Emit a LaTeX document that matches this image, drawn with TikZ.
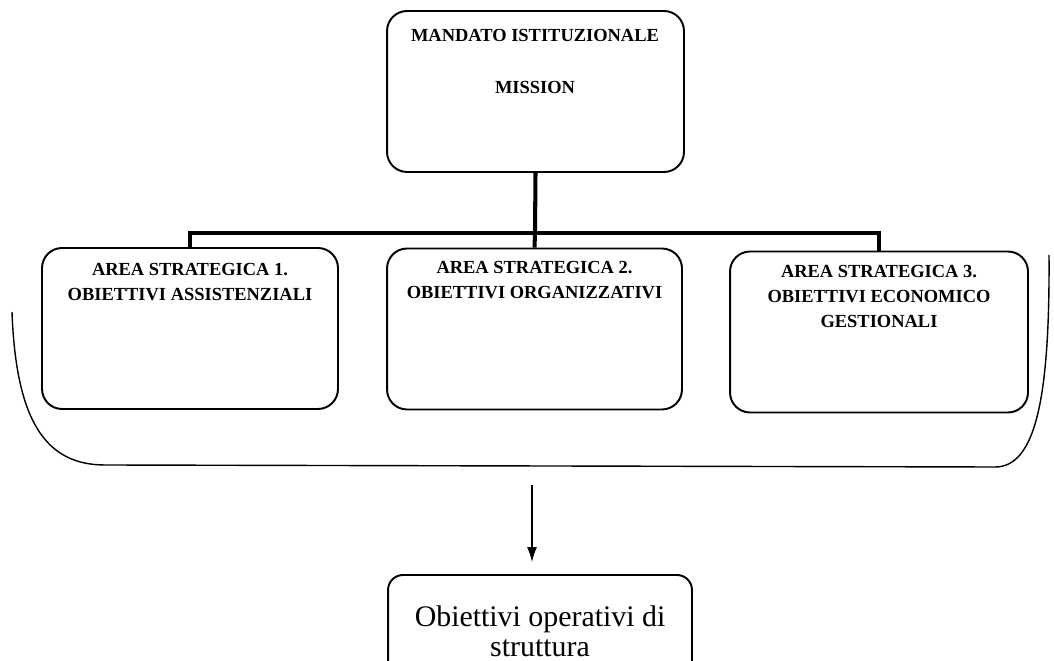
\documentclass[tikz,border=0pt]{standalone}
\usepackage{fontspec}
\setmainfont{Liberation Serif}
\usetikzlibrary{arrows.meta}
\begin{document}
\begin{tikzpicture}[x=0.02cm, y=-0.02cm,
  box/.style={draw, line width=1.1pt, rounded corners=0.4cm},
  caps/.style={font=\fontsize{10.5}{14.2}\selectfont\bfseries, align=center, inner sep=0pt},
  link/.style={line width=2.3pt}]
\fill[white] (0,0) rectangle (1054,661);
\clip (0,0) rectangle (1054,661);
% mission box
\node[box, minimum width=5.94cm, minimum height=3.22cm] (mandato) at (535.5,91.5) {};
\node[caps] (mandtxt) at (535,35) {MANDATO ISTITUZIONALE};
\node[caps] (mission) at (535,87) {MISSION};
% strategic areas
\foreach \n/\x/\y/\w/\ty/\txt in {1/190/328.5/5.92/263/{AREA STRATEGICA 1.\\OBIETTIVI ASSISTENZIALI},2/534.5/329/5.90/261/{AREA STRATEGICA 2.\\OBIETTIVI ORGANIZZATIVI},3/879/332/5.96/265/{AREA STRATEGICA 3.\\OBIETTIVI ECONOMICO\\GESTIONALI}} {
  \node[box, minimum width=\w cm, minimum height=3.22cm] (area\n) at (\x,\y) {};
  \node[caps, anchor=north] (areatxt\n) at (\x,\ty) {\txt};
}
\coordinate (hub) at (535,233);
\draw[link] (mandato.south) -- (hub) -- (area2.north);
\draw[link] (area1.north) |- (hub) -| (area3.north);
% bracket round the areas
\draw[line width=0.8pt] (12,312) .. controls (16,420) and (45,465) .. (105,465) -- (995,467) .. controls (1035,467) and (1050,400) .. (1049,255);
% operative objectives
\node[box, rounded corners=0.3cm, minimum width=6.08cm, minimum height=2.6cm] (obiettivi) at (540,640) {};
\node[font=\fontsize{17}{17.5}\selectfont, align=center, inner sep=0pt, anchor=north] (obtxt) at (540,605) {Obiettivi operativi di\\struttura};
\coordinate (arrowtop) at (532,485);
\draw[line width=0.8pt, -{Latex[length=0.3cm, width=0.2cm]}, shorten >=0.24cm] (arrowtop) -- (arrowtop |- obiettivi.north);
\end{tikzpicture}
\end{document}
